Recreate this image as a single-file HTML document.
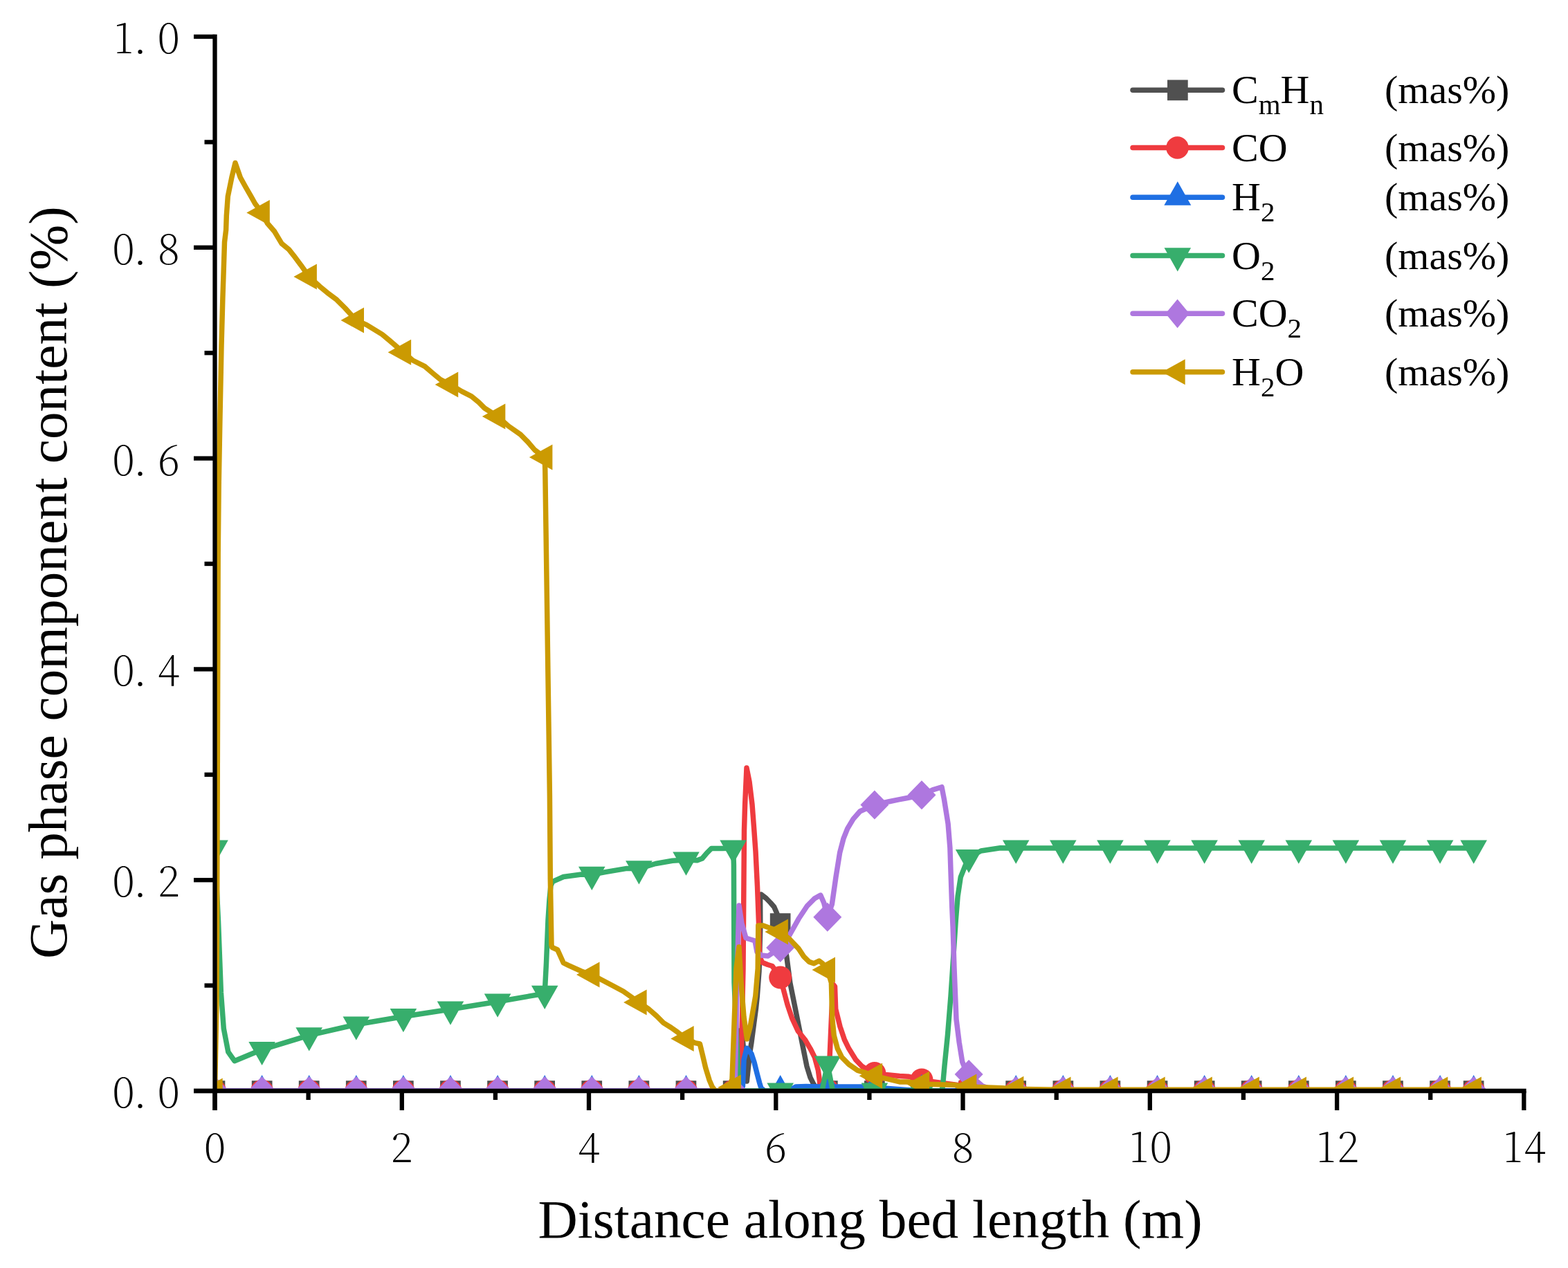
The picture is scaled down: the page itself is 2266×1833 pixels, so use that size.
<!DOCTYPE html>
<html><head><meta charset="utf-8"><title>Gas phase component content</title>
<style>html,body{margin:0;padding:0;background:#fff;}svg{display:block}</style></head>
<body>
<svg width="2266" height="1833" viewBox="0 0 2266 1833">
<rect width="2266" height="1833" fill="#fff"/>
<defs><clipPath id="pa"><rect x="310.5" y="40" width="1892.0" height="1537.0"/></clipPath></defs>
<g clip-path="url(#pa)">
<polyline points="310.5,1577.0 1058.0,1577.0 1064.0,1520.0 1069.0,1490.0 1073.0,1500.0 1075.5,1527.0 1079.3,1563.0 1081.7,1540.3 1083.4,1523.5 1086.0,1506.8 1089.3,1481.8 1092.6,1456.7 1094.3,1440.0 1097.0,1404.0 1098.8,1340.0 1098.6,1300.0 1100.0,1293.0 1107.2,1298.5 1113.5,1305.0 1118.7,1311.0 1122.4,1319.4 1127.7,1335.0 1136.8,1382.7 1141.8,1420.7 1148.2,1452.4 1154.5,1484.0 1160.8,1515.8 1165.9,1541.1 1171.0,1557.6 1176.0,1567.7 1184.0,1577.0 2129.7,1577.0" fill="none" stroke="#505050" stroke-width="7.5" stroke-linejoin="round" stroke-linecap="round"/>
<rect x="295.6" y="1562.2" width="29.7" height="29.7" fill="#505050"/><rect x="363.8" y="1562.2" width="29.7" height="29.7" fill="#505050"/><rect x="431.8" y="1562.2" width="29.7" height="29.7" fill="#505050"/><rect x="499.9" y="1562.2" width="29.7" height="29.7" fill="#505050"/><rect x="568.0" y="1562.2" width="29.7" height="29.7" fill="#505050"/><rect x="636.1" y="1562.2" width="29.7" height="29.7" fill="#505050"/><rect x="704.2" y="1562.2" width="29.7" height="29.7" fill="#505050"/><rect x="772.3" y="1562.2" width="29.7" height="29.7" fill="#505050"/><rect x="840.4" y="1562.2" width="29.7" height="29.7" fill="#505050"/><rect x="908.5" y="1562.2" width="29.7" height="29.7" fill="#505050"/><rect x="976.6" y="1562.2" width="29.7" height="29.7" fill="#505050"/><rect x="1044.8" y="1562.2" width="29.7" height="29.7" fill="#505050"/><rect x="1112.8" y="1320.2" width="29.7" height="29.7" fill="#505050"/><rect x="1181.0" y="1562.2" width="29.7" height="29.7" fill="#505050"/><rect x="1249.0" y="1562.2" width="29.7" height="29.7" fill="#505050"/><rect x="1317.2" y="1562.2" width="29.7" height="29.7" fill="#505050"/><rect x="1385.2" y="1562.2" width="29.7" height="29.7" fill="#505050"/><rect x="1453.3" y="1562.2" width="29.7" height="29.7" fill="#505050"/><rect x="1521.5" y="1562.2" width="29.7" height="29.7" fill="#505050"/><rect x="1589.5" y="1562.2" width="29.7" height="29.7" fill="#505050"/><rect x="1657.7" y="1562.2" width="29.7" height="29.7" fill="#505050"/><rect x="1725.8" y="1562.2" width="29.7" height="29.7" fill="#505050"/><rect x="1793.8" y="1562.2" width="29.7" height="29.7" fill="#505050"/><rect x="1862.0" y="1562.2" width="29.7" height="29.7" fill="#505050"/><rect x="1930.0" y="1562.2" width="29.7" height="29.7" fill="#505050"/><rect x="1998.1" y="1562.2" width="29.7" height="29.7" fill="#505050"/><rect x="2066.2" y="1562.2" width="29.7" height="29.7" fill="#505050"/><rect x="2114.8" y="1562.2" width="29.7" height="29.7" fill="#505050"/>
<polyline points="310.5,1577.0 1068.0,1577.0 1071.0,1540.0 1074.0,1400.0 1075.5,1200.0 1076.6,1163.0 1079.0,1110.0 1083.0,1130.0 1087.0,1163.0 1089.8,1200.0 1092.0,1230.7 1094.5,1281.4 1096.4,1332.0 1097.7,1382.8 1101.5,1391.3 1109.5,1394.5 1116.0,1396.5 1127.7,1413.0 1133.0,1433.4 1138.0,1452.4 1144.4,1471.4 1153.2,1490.4 1163.4,1503.0 1171.0,1515.8 1177.3,1528.4 1182.4,1547.4 1185.0,1566.5 1188.0,1575.0 1195.8,1576.0 1199.0,1530.0 1202.0,1460.0 1204.3,1423.2 1206.5,1426.0 1207.7,1458.7 1214.0,1484.0 1220.4,1503.0 1226.7,1515.8 1236.9,1532.2 1245.8,1541.5 1252.1,1545.5 1263.9,1551.5 1280.0,1553.5 1300.0,1555.5 1313.5,1556.3 1332.0,1561.0 1346.0,1563.5 1380.0,1568.0 1400.1,1571.0 1440.0,1575.0 1468.2,1577.0 2129.7,1577.0" fill="none" stroke="#ef3b3f" stroke-width="7.5" stroke-linejoin="round" stroke-linecap="round"/>
<circle cx="310.5" cy="1577.0" r="16.5" fill="#ef3b3f"/><circle cx="378.6" cy="1577.0" r="16.5" fill="#ef3b3f"/><circle cx="446.7" cy="1577.0" r="16.5" fill="#ef3b3f"/><circle cx="514.8" cy="1577.0" r="16.5" fill="#ef3b3f"/><circle cx="582.9" cy="1577.0" r="16.5" fill="#ef3b3f"/><circle cx="651.0" cy="1577.0" r="16.5" fill="#ef3b3f"/><circle cx="719.1" cy="1577.0" r="16.5" fill="#ef3b3f"/><circle cx="787.2" cy="1577.0" r="16.5" fill="#ef3b3f"/><circle cx="855.3" cy="1577.0" r="16.5" fill="#ef3b3f"/><circle cx="923.4" cy="1577.0" r="16.5" fill="#ef3b3f"/><circle cx="991.5" cy="1577.0" r="16.5" fill="#ef3b3f"/><circle cx="1059.6" cy="1577.0" r="16.5" fill="#ef3b3f"/><circle cx="1127.7" cy="1413.0" r="16.5" fill="#ef3b3f"/><circle cx="1195.8" cy="1576.0" r="16.5" fill="#ef3b3f"/><circle cx="1263.9" cy="1551.5" r="16.5" fill="#ef3b3f"/><circle cx="1332.0" cy="1561.0" r="16.5" fill="#ef3b3f"/><circle cx="1400.1" cy="1571.0" r="16.5" fill="#ef3b3f"/><circle cx="1468.2" cy="1577.0" r="16.5" fill="#ef3b3f"/><circle cx="1536.3" cy="1577.0" r="16.5" fill="#ef3b3f"/><circle cx="1604.4" cy="1577.0" r="16.5" fill="#ef3b3f"/><circle cx="1672.5" cy="1577.0" r="16.5" fill="#ef3b3f"/><circle cx="1740.6" cy="1577.0" r="16.5" fill="#ef3b3f"/><circle cx="1808.7" cy="1577.0" r="16.5" fill="#ef3b3f"/><circle cx="1876.8" cy="1577.0" r="16.5" fill="#ef3b3f"/><circle cx="1944.9" cy="1577.0" r="16.5" fill="#ef3b3f"/><circle cx="2013.0" cy="1577.0" r="16.5" fill="#ef3b3f"/><circle cx="2081.1" cy="1577.0" r="16.5" fill="#ef3b3f"/><circle cx="2129.7" cy="1577.0" r="16.5" fill="#ef3b3f"/>
<polyline points="310.5,1577.0 1071.0,1577.0 1073.4,1570.3 1075.0,1532.0 1079.2,1515.2 1086.0,1523.5 1090.1,1536.0 1094.3,1552.8 1097.6,1565.3 1100.0,1573.0 1105.0,1577.0 1140.0,1577.0 1150.0,1571.0 1165.0,1570.5 1185.0,1571.0 1210.0,1571.0 1245.0,1571.0 1265.0,1572.0 1290.0,1574.0 1330.0,1577.0 2129.7,1577.0" fill="none" stroke="#1f6fe3" stroke-width="7.5" stroke-linejoin="round" stroke-linecap="round"/>
<polygon points="310.5,1554.1 330.0,1588.5 291.0,1588.5" fill="#1f6fe3"/><polygon points="378.6,1554.1 398.1,1588.5 359.1,1588.5" fill="#1f6fe3"/><polygon points="446.7,1554.1 466.2,1588.5 427.2,1588.5" fill="#1f6fe3"/><polygon points="514.8,1554.1 534.3,1588.5 495.3,1588.5" fill="#1f6fe3"/><polygon points="582.9,1554.1 602.4,1588.5 563.4,1588.5" fill="#1f6fe3"/><polygon points="651.0,1554.1 670.5,1588.5 631.5,1588.5" fill="#1f6fe3"/><polygon points="719.1,1554.1 738.6,1588.5 699.6,1588.5" fill="#1f6fe3"/><polygon points="787.2,1554.1 806.7,1588.5 767.7,1588.5" fill="#1f6fe3"/><polygon points="855.3,1554.1 874.8,1588.5 835.8,1588.5" fill="#1f6fe3"/><polygon points="923.4,1554.1 942.9,1588.5 903.9,1588.5" fill="#1f6fe3"/><polygon points="991.5,1554.1 1011.0,1588.5 972.0,1588.5" fill="#1f6fe3"/><polygon points="1059.6,1554.1 1079.1,1588.5 1040.1,1588.5" fill="#1f6fe3"/><polygon points="1127.7,1554.1 1147.2,1588.5 1108.2,1588.5" fill="#1f6fe3"/><polygon points="1195.8,1548.1 1215.3,1582.5 1176.3,1582.5" fill="#1f6fe3"/><polygon points="1263.9,1549.1 1283.4,1583.5 1244.4,1583.5" fill="#1f6fe3"/><polygon points="1332.0,1553.1 1351.5,1587.5 1312.5,1587.5" fill="#1f6fe3"/><polygon points="1400.1,1554.1 1419.6,1588.5 1380.6,1588.5" fill="#1f6fe3"/><polygon points="1468.2,1554.1 1487.7,1588.5 1448.7,1588.5" fill="#1f6fe3"/><polygon points="1536.3,1554.1 1555.8,1588.5 1516.8,1588.5" fill="#1f6fe3"/><polygon points="1604.4,1554.1 1623.9,1588.5 1584.9,1588.5" fill="#1f6fe3"/><polygon points="1672.5,1554.1 1692.0,1588.5 1653.0,1588.5" fill="#1f6fe3"/><polygon points="1740.6,1554.1 1760.1,1588.5 1721.1,1588.5" fill="#1f6fe3"/><polygon points="1808.7,1554.1 1828.2,1588.5 1789.2,1588.5" fill="#1f6fe3"/><polygon points="1876.8,1554.1 1896.3,1588.5 1857.3,1588.5" fill="#1f6fe3"/><polygon points="1944.9,1554.1 1964.4,1588.5 1925.4,1588.5" fill="#1f6fe3"/><polygon points="2013.0,1554.1 2032.5,1588.5 1993.5,1588.5" fill="#1f6fe3"/><polygon points="2081.1,1554.1 2100.6,1588.5 2061.6,1588.5" fill="#1f6fe3"/><polygon points="2129.7,1554.1 2149.2,1588.5 2110.2,1588.5" fill="#1f6fe3"/>
<polyline points="310.5,1226.0 312.5,1270.0 315.5,1331.5 319.4,1435.0 323.3,1487.0 329.8,1520.7 338.9,1533.7 378.6,1517.3 446.7,1496.7 514.8,1481.0 582.9,1469.5 651.0,1459.0 719.1,1448.0 787.2,1436.2 789.5,1392.0 792.0,1330.0 794.0,1300.0 796.0,1280.0 798.8,1274.4 814.3,1267.5 840.2,1264.0 855.3,1264.2 874.8,1260.6 905.9,1255.4 923.4,1255.6 947.4,1248.5 971.6,1244.2 991.5,1243.0 1007.5,1243.8 1014.8,1241.0 1021.5,1233.1 1028.2,1226.4 1043.9,1226.4 1059.6,1226.0 1060.4,1250.0 1061.0,1420.0 1065.0,1510.0 1068.0,1577.0 1188.0,1577.0 1195.8,1538.0 1203.5,1577.0 1360.0,1577.0 1362.2,1572.0 1365.0,1540.6 1369.5,1496.0 1374.0,1440.0 1378.0,1380.0 1381.3,1330.0 1384.1,1295.7 1388.3,1267.8 1393.9,1253.8 1400.1,1239.3 1417.7,1230.0 1445.6,1225.8 1468.2,1226.0 2129.7,1226.0" fill="none" stroke="#37ae6c" stroke-width="7.5" stroke-linejoin="round" stroke-linecap="round"/>
<polygon points="291.2,1214.6 329.8,1214.6 310.5,1248.8" fill="#37ae6c"/><polygon points="359.3,1505.9 397.9,1505.9 378.6,1540.1" fill="#37ae6c"/><polygon points="427.4,1485.3 466.0,1485.3 446.7,1519.5" fill="#37ae6c"/><polygon points="495.5,1469.6 534.1,1469.6 514.8,1503.8" fill="#37ae6c"/><polygon points="563.6,1458.1 602.2,1458.1 582.9,1492.3" fill="#37ae6c"/><polygon points="631.7,1447.6 670.3,1447.6 651.0,1481.8" fill="#37ae6c"/><polygon points="699.8,1436.6 738.4,1436.6 719.1,1470.8" fill="#37ae6c"/><polygon points="767.9,1424.8 806.5,1424.8 787.2,1459.0" fill="#37ae6c"/><polygon points="836.0,1252.8 874.6,1252.8 855.3,1287.0" fill="#37ae6c"/><polygon points="904.1,1244.2 942.7,1244.2 923.4,1278.4" fill="#37ae6c"/><polygon points="972.2,1231.6 1010.8,1231.6 991.5,1265.8" fill="#37ae6c"/><polygon points="1040.3,1214.6 1078.9,1214.6 1059.6,1248.8" fill="#37ae6c"/><polygon points="1108.4,1565.6 1147.0,1565.6 1127.7,1599.8" fill="#37ae6c"/><polygon points="1176.5,1526.6 1215.1,1526.6 1195.8,1560.8" fill="#37ae6c"/><polygon points="1244.6,1565.6 1283.2,1565.6 1263.9,1599.8" fill="#37ae6c"/><polygon points="1312.7,1565.6 1351.3,1565.6 1332.0,1599.8" fill="#37ae6c"/><polygon points="1380.8,1227.9 1419.4,1227.9 1400.1,1262.1" fill="#37ae6c"/><polygon points="1448.9,1214.6 1487.5,1214.6 1468.2,1248.8" fill="#37ae6c"/><polygon points="1517.0,1214.6 1555.6,1214.6 1536.3,1248.8" fill="#37ae6c"/><polygon points="1585.1,1214.6 1623.7,1214.6 1604.4,1248.8" fill="#37ae6c"/><polygon points="1653.2,1214.6 1691.8,1214.6 1672.5,1248.8" fill="#37ae6c"/><polygon points="1721.3,1214.6 1759.9,1214.6 1740.6,1248.8" fill="#37ae6c"/><polygon points="1789.4,1214.6 1828.0,1214.6 1808.7,1248.8" fill="#37ae6c"/><polygon points="1857.5,1214.6 1896.1,1214.6 1876.8,1248.8" fill="#37ae6c"/><polygon points="1925.6,1214.6 1964.2,1214.6 1944.9,1248.8" fill="#37ae6c"/><polygon points="1993.7,1214.6 2032.3,1214.6 2013.0,1248.8" fill="#37ae6c"/><polygon points="2061.8,1214.6 2100.4,1214.6 2081.1,1248.8" fill="#37ae6c"/><polygon points="2110.4,1214.6 2149.0,1214.6 2129.7,1248.8" fill="#37ae6c"/>
<polyline points="310.5,1577.0 1062.0,1577.0 1066.0,1380.0 1068.0,1309.0 1072.0,1335.0 1078.0,1356.0 1091.0,1360.0 1094.0,1376.0 1100.0,1381.0 1110.0,1382.0 1127.7,1370.0 1141.4,1351.0 1154.1,1328.3 1166.7,1309.3 1176.9,1299.1 1185.8,1294.1 1190.8,1305.5 1195.8,1325.8 1202.4,1306.9 1208.0,1267.8 1213.6,1232.8 1219.1,1211.8 1224.7,1197.9 1233.1,1183.9 1242.9,1172.7 1263.9,1163.6 1284.9,1158.7 1298.8,1155.9 1310.0,1153.8 1332.0,1149.3 1347.8,1141.9 1361.0,1137.7 1364.5,1155.9 1370.1,1190.9 1372.9,1225.8 1374.3,1267.8 1375.7,1309.7 1377.1,1340.0 1379.0,1400.0 1380.6,1440.0 1382.0,1473.5 1386.2,1507.0 1390.7,1535.0 1395.2,1546.2 1400.1,1553.0 1420.0,1570.0 1440.0,1577.0 2129.7,1577.0" fill="none" stroke="#ae77df" stroke-width="7.5" stroke-linejoin="round" stroke-linecap="round"/>
<polygon points="310.5,1556.0 331.0,1577.0 310.5,1598.0 290.0,1577.0" fill="#ae77df"/><polygon points="378.6,1556.0 399.1,1577.0 378.6,1598.0 358.1,1577.0" fill="#ae77df"/><polygon points="446.7,1556.0 467.2,1577.0 446.7,1598.0 426.2,1577.0" fill="#ae77df"/><polygon points="514.8,1556.0 535.3,1577.0 514.8,1598.0 494.3,1577.0" fill="#ae77df"/><polygon points="582.9,1556.0 603.4,1577.0 582.9,1598.0 562.4,1577.0" fill="#ae77df"/><polygon points="651.0,1556.0 671.5,1577.0 651.0,1598.0 630.5,1577.0" fill="#ae77df"/><polygon points="719.1,1556.0 739.6,1577.0 719.1,1598.0 698.6,1577.0" fill="#ae77df"/><polygon points="787.2,1556.0 807.7,1577.0 787.2,1598.0 766.7,1577.0" fill="#ae77df"/><polygon points="855.3,1556.0 875.8,1577.0 855.3,1598.0 834.8,1577.0" fill="#ae77df"/><polygon points="923.4,1556.0 943.9,1577.0 923.4,1598.0 902.9,1577.0" fill="#ae77df"/><polygon points="991.5,1556.0 1012.0,1577.0 991.5,1598.0 971.0,1577.0" fill="#ae77df"/><polygon points="1059.6,1556.0 1080.1,1577.0 1059.6,1598.0 1039.1,1577.0" fill="#ae77df"/><polygon points="1127.7,1349.0 1148.2,1370.0 1127.7,1391.0 1107.2,1370.0" fill="#ae77df"/><polygon points="1195.8,1304.8 1216.3,1325.8 1195.8,1346.8 1175.3,1325.8" fill="#ae77df"/><polygon points="1263.9,1142.6 1284.4,1163.6 1263.9,1184.6 1243.4,1163.6" fill="#ae77df"/><polygon points="1332.0,1128.3 1352.5,1149.3 1332.0,1170.3 1311.5,1149.3" fill="#ae77df"/><polygon points="1400.1,1532.0 1420.6,1553.0 1400.1,1574.0 1379.6,1553.0" fill="#ae77df"/><polygon points="1468.2,1556.0 1488.7,1577.0 1468.2,1598.0 1447.7,1577.0" fill="#ae77df"/><polygon points="1536.3,1556.0 1556.8,1577.0 1536.3,1598.0 1515.8,1577.0" fill="#ae77df"/><polygon points="1604.4,1556.0 1624.9,1577.0 1604.4,1598.0 1583.9,1577.0" fill="#ae77df"/><polygon points="1672.5,1556.0 1693.0,1577.0 1672.5,1598.0 1652.0,1577.0" fill="#ae77df"/><polygon points="1740.6,1556.0 1761.1,1577.0 1740.6,1598.0 1720.1,1577.0" fill="#ae77df"/><polygon points="1808.7,1556.0 1829.2,1577.0 1808.7,1598.0 1788.2,1577.0" fill="#ae77df"/><polygon points="1876.8,1556.0 1897.3,1577.0 1876.8,1598.0 1856.3,1577.0" fill="#ae77df"/><polygon points="1944.9,1556.0 1965.4,1577.0 1944.9,1598.0 1924.4,1577.0" fill="#ae77df"/><polygon points="2013.0,1556.0 2033.5,1577.0 2013.0,1598.0 1992.5,1577.0" fill="#ae77df"/><polygon points="2081.1,1556.0 2101.6,1577.0 2081.1,1598.0 2060.6,1577.0" fill="#ae77df"/><polygon points="2129.7,1556.0 2150.2,1577.0 2129.7,1598.0 2109.2,1577.0" fill="#ae77df"/>
<polyline points="310.5,1577.0 313.0,1450.0 314.0,1200.0 314.6,1000.0 315.2,800.0 316.2,700.0 318.0,600.0 320.0,500.0 321.9,430.0 322.9,400.0 324.5,350.0 326.6,332.5 327.3,311.8 329.3,284.0 334.9,256.5 340.0,235.5 347.3,256.5 354.9,270.3 362.9,284.1 368.7,294.5 378.6,307.6 386.4,322.7 396.8,334.8 407.1,352.1 417.5,360.7 424.4,369.3 434.8,383.2 446.7,400.0 462.4,414.3 472.8,422.9 486.6,433.3 498.7,445.4 514.8,463.0 529.8,469.6 552.3,483.4 562.7,492.0 582.9,509.3 596.7,521.0 613.9,529.6 626.0,540.0 636.4,548.6 651.0,556.0 667.5,565.9 681.3,572.8 691.7,581.4 700.3,590.0 719.1,602.0 734.9,616.0 752.2,628.1 762.5,638.5 772.9,650.6 787.2,661.0 787.8,680.0 794.4,1150.0 795.3,1271.0 797.0,1366.0 797.9,1369.5 805.7,1373.0 814.3,1392.0 821.2,1395.4 840.2,1404.0 855.3,1409.0 885.2,1424.8 900.7,1433.0 923.4,1449.0 938.1,1459.2 949.1,1468.9 958.8,1478.6 969.9,1485.5 979.6,1492.4 991.5,1501.4 1004.5,1507.6 1011.4,1509.0 1014.8,1522.8 1019.7,1543.6 1025.2,1561.6 1029.3,1571.2 1034.0,1577.0 1052.0,1577.0 1058.0,1560.0 1061.0,1480.0 1064.0,1400.0 1068.0,1369.0 1071.0,1420.0 1075.0,1470.0 1079.5,1502.0 1084.0,1485.0 1091.8,1440.0 1095.2,1400.0 1095.8,1338.0 1103.0,1338.0 1127.7,1347.0 1141.5,1358.0 1154.1,1371.4 1161.7,1382.8 1169.3,1390.4 1176.0,1392.8 1183.7,1389.0 1188.7,1392.8 1195.8,1402.0 1201.4,1420.7 1202.7,1471.4 1205.2,1496.7 1210.3,1515.8 1216.6,1528.4 1226.7,1538.6 1239.4,1547.4 1252.1,1551.2 1263.9,1555.3 1300.0,1563.9 1313.5,1564.1 1332.0,1567.0 1380.6,1568.6 1400.1,1571.0 1447.7,1572.8 1468.2,1574.3 1530.0,1575.2 2129.7,1575.2" fill="none" stroke="#cb9a02" stroke-width="7.5" stroke-linejoin="round" stroke-linecap="round"/>
<polygon points="288.2,1577.0 321.7,1558.5 321.7,1595.5" fill="#cb9a02"/><polygon points="356.3,307.6 389.8,289.1 389.8,326.1" fill="#cb9a02"/><polygon points="424.4,400.0 457.9,381.5 457.9,418.5" fill="#cb9a02"/><polygon points="492.5,463.0 526.0,444.5 526.0,481.5" fill="#cb9a02"/><polygon points="560.6,509.3 594.1,490.8 594.1,527.8" fill="#cb9a02"/><polygon points="628.7,556.0 662.2,537.5 662.2,574.5" fill="#cb9a02"/><polygon points="696.8,602.0 730.3,583.5 730.3,620.5" fill="#cb9a02"/><polygon points="764.9,661.0 798.4,642.5 798.4,679.5" fill="#cb9a02"/><polygon points="833.0,1409.0 866.5,1390.5 866.5,1427.5" fill="#cb9a02"/><polygon points="901.1,1449.0 934.6,1430.5 934.6,1467.5" fill="#cb9a02"/><polygon points="969.2,1501.4 1002.7,1482.9 1002.7,1519.9" fill="#cb9a02"/><polygon points="1037.3,1572.0 1070.8,1553.5 1070.8,1590.5" fill="#cb9a02"/><polygon points="1105.4,1347.0 1138.9,1328.5 1138.9,1365.5" fill="#cb9a02"/><polygon points="1173.5,1402.0 1207.0,1383.5 1207.0,1420.5" fill="#cb9a02"/><polygon points="1241.6,1555.3 1275.1,1536.8 1275.1,1573.8" fill="#cb9a02"/><polygon points="1309.7,1567.0 1343.2,1548.5 1343.2,1585.5" fill="#cb9a02"/><polygon points="1377.8,1571.0 1411.3,1552.5 1411.3,1589.5" fill="#cb9a02"/><polygon points="1445.9,1574.3 1479.4,1555.8 1479.4,1592.8" fill="#cb9a02"/><polygon points="1514.0,1575.0 1547.5,1556.5 1547.5,1593.5" fill="#cb9a02"/><polygon points="1582.1,1575.0 1615.6,1556.5 1615.6,1593.5" fill="#cb9a02"/><polygon points="1650.2,1575.0 1683.7,1556.5 1683.7,1593.5" fill="#cb9a02"/><polygon points="1718.3,1575.0 1751.8,1556.5 1751.8,1593.5" fill="#cb9a02"/><polygon points="1786.4,1575.0 1819.9,1556.5 1819.9,1593.5" fill="#cb9a02"/><polygon points="1854.5,1575.0 1888.0,1556.5 1888.0,1593.5" fill="#cb9a02"/><polygon points="1922.6,1575.0 1956.1,1556.5 1956.1,1593.5" fill="#cb9a02"/><polygon points="1990.7,1575.0 2024.2,1556.5 2024.2,1593.5" fill="#cb9a02"/><polygon points="2058.8,1575.0 2092.3,1556.5 2092.3,1593.5" fill="#cb9a02"/><polygon points="2107.4,1575.0 2140.9,1556.5 2140.9,1593.5" fill="#cb9a02"/>
</g>
<line x1="310.5" y1="49.8" x2="310.5" y2="1605" stroke="#000" stroke-width="6.3"/>
<line x1="280" y1="1577.0" x2="2205.6" y2="1577.0" stroke="#000" stroke-width="6.3"/>
<line x1="280" y1="1577.0" x2="310.5" y2="1577.0" stroke="#000" stroke-width="6.3"/>
<line x1="295.5" y1="1424.6" x2="310.5" y2="1424.6" stroke="#000" stroke-width="6.3"/>
<line x1="280" y1="1272.2" x2="310.5" y2="1272.2" stroke="#000" stroke-width="6.3"/>
<line x1="295.5" y1="1119.8" x2="310.5" y2="1119.8" stroke="#000" stroke-width="6.3"/>
<line x1="280" y1="967.4" x2="310.5" y2="967.4" stroke="#000" stroke-width="6.3"/>
<line x1="295.5" y1="815.0" x2="310.5" y2="815.0" stroke="#000" stroke-width="6.3"/>
<line x1="280" y1="662.6" x2="310.5" y2="662.6" stroke="#000" stroke-width="6.3"/>
<line x1="295.5" y1="510.2" x2="310.5" y2="510.2" stroke="#000" stroke-width="6.3"/>
<line x1="280" y1="357.8" x2="310.5" y2="357.8" stroke="#000" stroke-width="6.3"/>
<line x1="295.5" y1="205.4" x2="310.5" y2="205.4" stroke="#000" stroke-width="6.3"/>
<line x1="280" y1="53.0" x2="310.5" y2="53.0" stroke="#000" stroke-width="6.3"/>
<line x1="310.5" y1="1577.0" x2="310.5" y2="1605" stroke="#000" stroke-width="6.3"/>
<line x1="445.6" y1="1577.0" x2="445.6" y2="1590" stroke="#000" stroke-width="6.3"/>
<line x1="580.8" y1="1577.0" x2="580.8" y2="1605" stroke="#000" stroke-width="6.3"/>
<line x1="715.9" y1="1577.0" x2="715.9" y2="1590" stroke="#000" stroke-width="6.3"/>
<line x1="851.0" y1="1577.0" x2="851.0" y2="1605" stroke="#000" stroke-width="6.3"/>
<line x1="986.1" y1="1577.0" x2="986.1" y2="1590" stroke="#000" stroke-width="6.3"/>
<line x1="1121.3" y1="1577.0" x2="1121.3" y2="1605" stroke="#000" stroke-width="6.3"/>
<line x1="1256.4" y1="1577.0" x2="1256.4" y2="1590" stroke="#000" stroke-width="6.3"/>
<line x1="1391.5" y1="1577.0" x2="1391.5" y2="1605" stroke="#000" stroke-width="6.3"/>
<line x1="1526.7" y1="1577.0" x2="1526.7" y2="1590" stroke="#000" stroke-width="6.3"/>
<line x1="1661.8" y1="1577.0" x2="1661.8" y2="1605" stroke="#000" stroke-width="6.3"/>
<line x1="1796.9" y1="1577.0" x2="1796.9" y2="1590" stroke="#000" stroke-width="6.3"/>
<line x1="1932.1" y1="1577.0" x2="1932.1" y2="1605" stroke="#000" stroke-width="6.3"/>
<line x1="2067.2" y1="1577.0" x2="2067.2" y2="1590" stroke="#000" stroke-width="6.3"/>
<line x1="2202.3" y1="1577.0" x2="2202.3" y2="1605" stroke="#000" stroke-width="6.3"/>
<text font-family="Noto Serif CJK SC, Liberation Serif, serif" font-weight="200" font-size="59" fill="#000" text-anchor="middle" x="178.5 202.6 243.7" y="1601.0">0.0</text>
<text font-family="Noto Serif CJK SC, Liberation Serif, serif" font-weight="200" font-size="59" fill="#000" text-anchor="middle" x="178.5 202.6 243.7" y="1296.2">0.2</text>
<text font-family="Noto Serif CJK SC, Liberation Serif, serif" font-weight="200" font-size="59" fill="#000" text-anchor="middle" x="178.5 202.6 243.7" y="991.4">0.4</text>
<text font-family="Noto Serif CJK SC, Liberation Serif, serif" font-weight="200" font-size="59" fill="#000" text-anchor="middle" x="178.5 202.6 243.7" y="686.6">0.6</text>
<text font-family="Noto Serif CJK SC, Liberation Serif, serif" font-weight="200" font-size="59" fill="#000" text-anchor="middle" x="178.5 202.6 243.7" y="381.8">0.8</text>
<text font-family="Noto Serif CJK SC, Liberation Serif, serif" font-weight="200" font-size="59" fill="#000" text-anchor="middle" x="178.5 202.6 243.7" y="77.0">1.0</text>
<text font-family="Noto Serif CJK SC, Liberation Serif, serif" font-weight="200" font-size="59" fill="#000" text-anchor="middle" x="310.5" y="1680">0</text>
<text font-family="Noto Serif CJK SC, Liberation Serif, serif" font-weight="200" font-size="59" fill="#000" text-anchor="middle" x="580.8" y="1680">2</text>
<text font-family="Noto Serif CJK SC, Liberation Serif, serif" font-weight="200" font-size="59" fill="#000" text-anchor="middle" x="851.0" y="1680">4</text>
<text font-family="Noto Serif CJK SC, Liberation Serif, serif" font-weight="200" font-size="59" fill="#000" text-anchor="middle" x="1121.3" y="1680">6</text>
<text font-family="Noto Serif CJK SC, Liberation Serif, serif" font-weight="200" font-size="59" fill="#000" text-anchor="middle" x="1391.5" y="1680">8</text>
<text font-family="Noto Serif CJK SC, Liberation Serif, serif" font-weight="200" font-size="59" fill="#000" text-anchor="middle" x="1645.8 1677.8" y="1680">10</text>
<text font-family="Noto Serif CJK SC, Liberation Serif, serif" font-weight="200" font-size="59" fill="#000" text-anchor="middle" x="1916.1 1948.1" y="1680">12</text>
<text font-family="Noto Serif CJK SC, Liberation Serif, serif" font-weight="200" font-size="59" fill="#000" text-anchor="middle" x="2186.3 2218.3" y="1680">14</text>
<text font-family="Liberation Serif, serif" font-size="79.3" fill="#000" x="777.5" y="1789.3">Distance along bed length (m)</text>
<text font-family="Liberation Serif, serif" font-size="79.3" fill="#000" transform="translate(96.3,1386) rotate(-90)" x="0" y="0">Gas phase component content (%)</text>
<line x1="1637" y1="130.3" x2="1766.5" y2="130.3" stroke="#505050" stroke-width="7.5" stroke-linecap="round"/>
<rect x="1687.0" y="115.5" width="29.7" height="29.7" fill="#505050"/><text font-family="Liberation Serif, serif" font-size="58" fill="#000" x="1780" y="149.3"><tspan >C</tspan><tspan font-size="41" dy="16">m</tspan><tspan dy="-16">H</tspan><tspan font-size="41" dy="16">n</tspan></text>
<text font-family="Liberation Serif, serif" font-size="58" fill="#000" x="2001" y="149.3">(mas%)</text>
<line x1="1637" y1="213.5" x2="1766.5" y2="213.5" stroke="#ef3b3f" stroke-width="7.5" stroke-linecap="round"/>
<circle cx="1701.5" cy="213.5" r="16.25" fill="#ef3b3f"/><text font-family="Liberation Serif, serif" font-size="58" fill="#000" x="1780" y="232.5"><tspan >CO</tspan></text>
<text font-family="Liberation Serif, serif" font-size="58" fill="#000" x="2001" y="232.5">(mas%)</text>
<line x1="1637" y1="285.2" x2="1766.5" y2="285.2" stroke="#1f6fe3" stroke-width="7.5" stroke-linecap="round"/>
<polygon points="1701.8,262.3 1721.3,296.7 1682.3,296.7" fill="#1f6fe3"/><text font-family="Liberation Serif, serif" font-size="58" fill="#000" x="1780" y="304.2"><tspan >H</tspan><tspan font-size="41" dy="16">2</tspan></text>
<text font-family="Liberation Serif, serif" font-size="58" fill="#000" x="2001" y="304.2">(mas%)</text>
<line x1="1637" y1="369.6" x2="1766.5" y2="369.6" stroke="#37ae6c" stroke-width="7.5" stroke-linecap="round"/>
<polygon points="1682.5,358.2 1721.1,358.2 1701.8,392.4" fill="#37ae6c"/><text font-family="Liberation Serif, serif" font-size="58" fill="#000" x="1780" y="388.6"><tspan >O</tspan><tspan font-size="41" dy="16">2</tspan></text>
<text font-family="Liberation Serif, serif" font-size="58" fill="#000" x="2001" y="388.6">(mas%)</text>
<line x1="1637" y1="453.3" x2="1766.5" y2="453.3" stroke="#ae77df" stroke-width="7.5" stroke-linecap="round"/>
<polygon points="1701.6,432.4 1718.8,453.3 1701.6,474.2 1684.4,453.3" fill="#ae77df"/><text font-family="Liberation Serif, serif" font-size="58" fill="#000" x="1780" y="472.3"><tspan >CO</tspan><tspan font-size="41" dy="16">2</tspan></text>
<text font-family="Liberation Serif, serif" font-size="58" fill="#000" x="2001" y="472.3">(mas%)</text>
<line x1="1637" y1="537.8" x2="1766.5" y2="537.8" stroke="#cb9a02" stroke-width="7.5" stroke-linecap="round"/>
<polygon points="1679.2,537.8 1712.7,519.3 1712.7,556.3" fill="#cb9a02"/><text font-family="Liberation Serif, serif" font-size="58" fill="#000" x="1780" y="556.8"><tspan >H</tspan><tspan font-size="41" dy="16">2</tspan><tspan dy="-16">O</tspan></text>
<text font-family="Liberation Serif, serif" font-size="58" fill="#000" x="2001" y="556.8">(mas%)</text>
</svg>
</body></html>
